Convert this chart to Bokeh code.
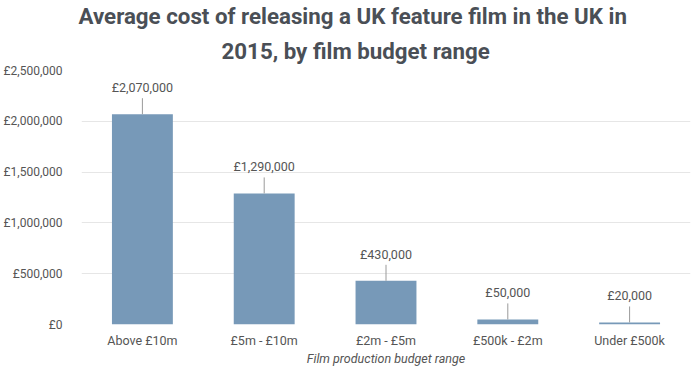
from bokeh.plotting import figure
from bokeh.models import Range1d, FixedTicker, Title, ColumnDataSource
from bokeh.core.properties import value
from bokeh.embed import file_html
from bokeh.resources import INLINE
import math

categories = ["Above £10m", "£5m - £10m", "£2m - £5m", "£500k - £2m", "Under £500k"]
values = [2070000, 1290000, 430000, 50000, 20000]
y_ticks = [0, 500000, 1000000, 1500000, 2000000, 2500000]

title_line1 = "Average cost of releasing a UK feature film in the UK in"
title_line2 = "2015, by film budget range"
x_label = "Film production budget range"

FONT = "Roboto"
TEXT_COLOR = "#555555"

src = ColumnDataSource(dict(
    cat=categories,
    val=values,
    lbl=[f"£{v:,}" for v in values],
))

p = figure(
    x_range=categories,
    y_range=Range1d(0, 2500000),
    width=700, height=375,
    output_backend="svg",
    toolbar_location=None,
    title=None,
)
p.min_border = 0
p.min_border_left = 80
p.min_border_right = 10
p.min_border_top = 0
p.min_border_bottom = 51
p.outline_line_color = None
p.background_fill_color = "white"
p.border_fill_color = "white"

t2 = Title(text=title_line2, align="left", text_font=FONT, text_font_size="22.3px",
           text_font_style="bold", text_color="#4a4f56", standoff=14, offset=140)
p.add_layout(t2, "above")
t1 = Title(text=title_line1, align="left", text_font=FONT, text_font_size="22.3px",
           text_font_style="bold", text_color="#4a4f56", standoff=0, offset=-3)
p.add_layout(t1, "above")

p.vbar(x="cat", top="val", width=0.5, source=src, color="#7799b8", line_color=None)
p.ray(x="cat", y="val", length=16, length_units="screen", angle=math.pi / 2,
      source=src, line_color="#9a9a9a", line_width=1)
p.text(x="cat", y="val", text="lbl", source=src, text_align="center",
       text_baseline="bottom", y_offset=-19, text_font=value(FONT),
       text_font_size="12.5px", text_color=TEXT_COLOR)

p.yaxis.ticker = FixedTicker(ticks=y_ticks)
p.yaxis.major_label_overrides = {v: f"£{v:,}" for v in y_ticks}
p.yaxis.axis_line_color = None
p.yaxis.major_tick_line_color = None
p.yaxis.minor_tick_line_color = None
p.yaxis.major_label_standoff = 13
p.yaxis.major_label_text_font = FONT
p.yaxis.major_label_text_font_size = "12px"
p.yaxis.major_label_text_color = TEXT_COLOR

p.xaxis.axis_line_color = None
p.xaxis.major_tick_line_color = None
p.xaxis.minor_tick_line_color = None
p.xaxis.major_label_standoff = 2
p.xaxis.major_label_text_font = FONT
p.xaxis.major_label_text_font_size = "12.5px"
p.xaxis.major_label_text_color = TEXT_COLOR
p.xaxis.axis_label = x_label
p.xaxis.axis_label_text_font = FONT
p.xaxis.axis_label_text_font_size = "12.5px"
p.xaxis.axis_label_text_font_style = "italic"
p.xaxis.axis_label_text_color = TEXT_COLOR
p.xaxis.axis_label_standoff = 0

p.xgrid.grid_line_color = None
p.ygrid.grid_line_color = "#e6e6e6"
p.ygrid.grid_line_width = 1

open("out.html", "w").write(file_html(p, INLINE))
